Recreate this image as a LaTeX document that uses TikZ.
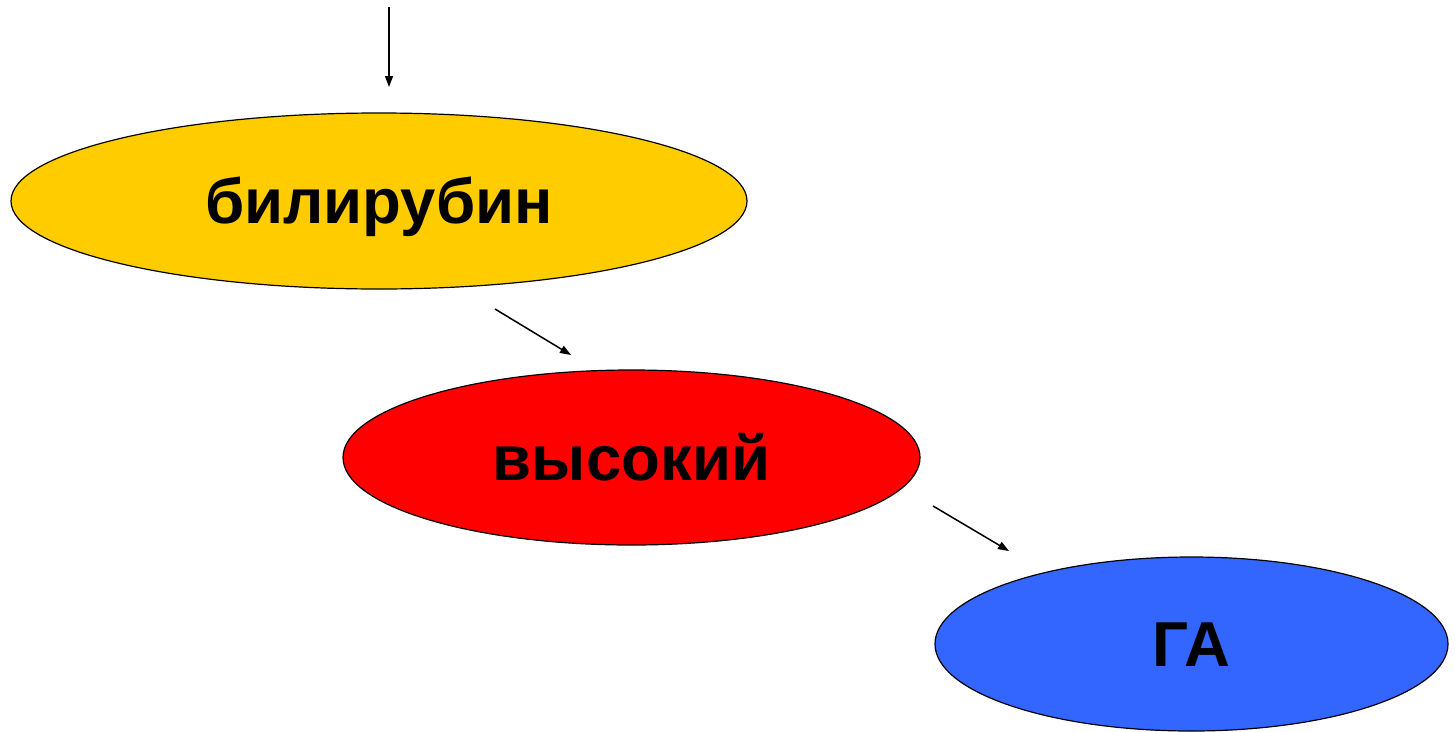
\documentclass[tikz,border=0pt]{standalone}
\usepackage{fontspec}
\setmainfont{Liberation Sans}
\usetikzlibrary{shapes.geometric,arrows.meta}
\definecolor{cyellow}{HTML}{FFCC00}
\definecolor{cred}{HTML}{FF0000}
\definecolor{cblue}{HTML}{3366FF}
\tikzset{
  oval/.style={ellipse, draw=black, line width=1.2pt, inner sep=0pt,
    text height=45pt, text depth=0pt,
    font=\fontsize{63.5}{70}\selectfont\bfseries, text=black},
  arr/.style={line width=1.5pt, -{Triangle[length=11pt,width=8pt]}}
}
\begin{document}
\begin{tikzpicture}[x=1pt,y=-1pt]
\useasboundingbox (0,0) rectangle (1455,731);
\node[oval, fill=cyellow, minimum width=736pt, minimum height=176pt] (bil) at (379,201) {билирубин};
\node[oval, fill=cred, minimum width=577pt, minimum height=175pt] (vys) at (631.5,457.5) {высокий};
\node[oval, fill=cblue, minimum width=513pt, minimum height=174pt] (ga) at (1191.5,644) {ГА};
\coordinate (s0) at (389,7);
\coordinate (e0) at (389,87);
\coordinate (s1) at (495,309);
\coordinate (e1) at (571,355);
\coordinate (s2) at (933,506);
\coordinate (e2) at (1009,551);
\draw[arr] (s0) -- (e0);
\draw[arr] (s1) -- (e1);
\draw[arr] (s2) -- (e2);
\end{tikzpicture}
\end{document}
